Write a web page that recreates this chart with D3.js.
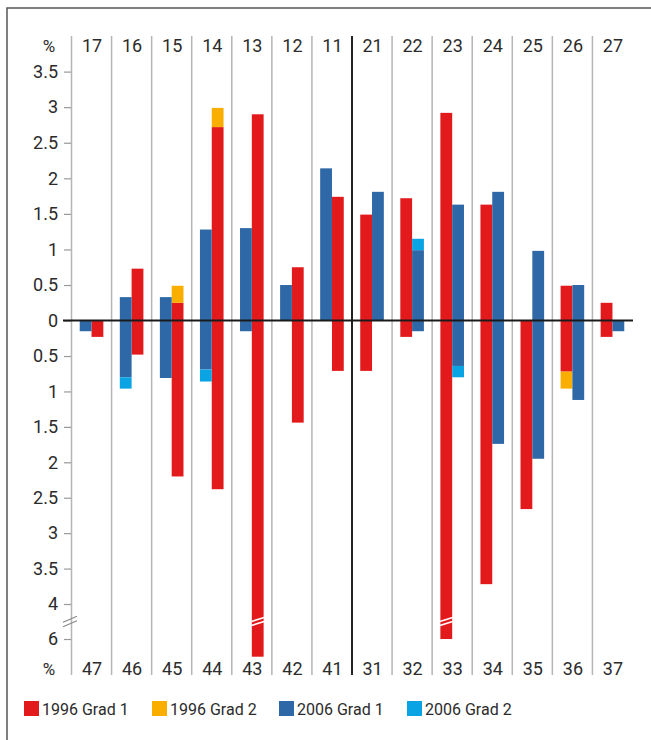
<!DOCTYPE html>
<html>
<head>
<meta charset="utf-8">
<script src="https://cdn.jsdelivr.net/npm/d3@7"></script>
<style>
  body { margin: 0; background: #fff; }
  text { font-family: Roboto, "Liberation Sans", Arial, sans-serif; fill: #2b2b2b; }
</style>
</head>
<body>
<div id="chart"></div>
<script>
const width = 651;
const height = 740;

// tooth numbers, upper jaw on top, lower jaw on bottom
const upperTeeth = ["17", "16", "15", "14", "13", "12", "11", "21", "22", "23", "24", "25", "26", "27"];
const lowerTeeth = ["47", "46", "45", "44", "43", "42", "41", "31", "32", "33", "34", "35", "36", "37"];

// percentages, upper jaw (drawn upwards)
const upper1996g1 = [0, 0.73, 0.25, 2.72, 2.90, 0.75, 1.74, 1.49, 1.72, 2.92, 1.63, 0, 0.49, 0.25];
const upper1996g2 = [0, 0, 0.24, 0.27, 0, 0, 0, 0, 0, 0, 0, 0, 0, 0];
const upper2006g1 = [0, 0.33, 0.33, 1.28, 1.30, 0.50, 2.14, 1.81, 0.99, 1.63, 1.81, 0.98, 0.50, 0];
const upper2006g2 = [0, 0, 0, 0, 0, 0, 0, 0, 0.16, 0, 0, 0, 0, 0];

// percentages, lower jaw (drawn downwards)
const lower1996g1 = [0.23, 0.48, 2.20, 2.38, 6.25, 1.44, 0.71, 0.71, 0.23, 6.0, 3.72, 2.66, 0.72, 0.23];
const lower1996g2 = [0, 0, 0, 0, 0, 0, 0, 0, 0, 0, 0, 0, 0.24, 0];
const lower2006g1 = [0.15, 0.80, 0.81, 0.69, 0.15, 0, 0, 0, 0.15, 0.64, 1.74, 1.95, 1.12, 0.15];
const lower2006g2 = [0, 0.16, 0, 0.17, 0, 0, 0, 0, 0, 0.16, 0, 0, 0, 0];

const yTicks = [3.5, 3, 2.5, 2, 1.5, 1, 0.5, 0, -0.5, -1, -1.5, -2, -2.5, -3, -3.5, -4, -6];
const seriesNames = ["1996 Grad 1", "1996 Grad 2", "2006 Grad 1", "2006 Grad 2"];
const colors = ["#e31a1c", "#f9ae00", "#2e68a6", "#0aa3e3"];

const svg = d3.select("#chart").append("svg")
    .attr("width", width)
    .attr("height", height);

// frame
svg.append("path")
    .attr("d", "M7,740 L7,8 L651,8")
    .attr("fill", "none")
    .attr("stroke", "#555")
    .attr("stroke-width", 1.5);

const x = d3.scaleBand().domain(d3.range(upperTeeth.length)).range([71, 632]);
// broken axis: 4 -> 6 squeezed
const y = d3.scaleLinear()
    .domain([3.5, 0, -4, -6, -7])
    .range([71.6, 320.6, 604, 639, 709.8]);

const lineTop = 36, lineBottom = 675;

// column separators
svg.append("g").selectAll("line")
    .data(d3.range(upperTeeth.length))
    .enter()
    .append("line")
    .attr("x1", d => x(d) + 0.5)
    .attr("x2", d => x(d) + 0.5)
    .attr("y1", lineTop)
    .attr("y2", lineBottom)
    .attr("stroke", d => d == 7 ? "#222" : "#b5b5b5")
    .attr("stroke-width", d => d == 7 ? 2 : 1.5);

// y axis
const yAxis = svg.append("g")
    .attr("transform", "translate(71,0)")
    .call(d3.axisLeft(y).tickValues(yTicks).tickSize(7).tickPadding(6)
        .tickFormat(d => Math.abs(d)));
yAxis.select(".domain").remove();
yAxis.selectAll(".tick line").attr("stroke", "#999").attr("stroke-width", 1.2);
yAxis.selectAll(".tick text")
    .style("font-size", "18px")
    .style("font-family", "Roboto, 'Liberation Sans', Arial, sans-serif")
    .attr("fill", "#2b2b2b");

// percent signs
svg.append("text").attr("x", 49).attr("y", 51.5).attr("text-anchor", "middle")
    .style("font-size", "17px").text("%");
svg.append("text").attr("x", 49).attr("y", 674.5).attr("text-anchor", "middle")
    .style("font-size", "17px").text("%");

// tooth labels
svg.append("g").selectAll("text")
    .data(upperTeeth)
    .enter()
    .append("text")
    .attr("x", (d, i) => x(i) + x.bandwidth() / 2 + 1)
    .attr("y", 51.5)
    .attr("text-anchor", "middle")
    .style("font-size", "18px")
    .text(d => d);

svg.append("g").selectAll("text")
    .data(lowerTeeth)
    .enter()
    .append("text")
    .attr("x", (d, i) => x(i) + x.bandwidth() / 2 + 1)
    .attr("y", 674.5)
    .attr("text-anchor", "middle")
    .style("font-size", "18px")
    .text(d => d);

// bars
const barW = 11.8;
function barX(i, is1996) {
    const c = x(i) + x.bandwidth() / 2 + 0.5;
    const left = i < 7;
    // 1996 bar sits next to the midline
    if (left) return is1996 ? c : c - barW;
    return is1996 ? c - barW : c;
}

const bars = [];
upperTeeth.forEach((t, i) => {
    bars.push({i: i, is1996: true, from: 0, to: upper1996g1[i], color: colors[0]});
    bars.push({i: i, is1996: true, from: upper1996g1[i], to: upper1996g1[i] + upper1996g2[i], color: colors[1]});
    bars.push({i: i, is1996: false, from: 0, to: upper2006g1[i], color: colors[2]});
    bars.push({i: i, is1996: false, from: upper2006g1[i], to: upper2006g1[i] + upper2006g2[i], color: colors[3]});
    bars.push({i: i, is1996: true, from: 0, to: -lower1996g1[i], color: colors[0]});
    bars.push({i: i, is1996: true, from: -lower1996g1[i], to: -lower1996g1[i] - lower1996g2[i], color: colors[1]});
    bars.push({i: i, is1996: false, from: 0, to: -lower2006g1[i], color: colors[2]});
    bars.push({i: i, is1996: false, from: -lower2006g1[i], to: -lower2006g1[i] - lower2006g2[i], color: colors[3]});
});

svg.append("g").selectAll("rect")
    .data(bars.filter(b => b.from != b.to))
    .enter()
    .append("rect")
    .attr("x", d => barX(d.i, d.is1996))
    .attr("width", barW)
    .attr("y", d => Math.min(y(d.from), y(d.to)))
    .attr("height", d => Math.abs(y(d.from) - y(d.to)))
    .attr("fill", d => d.color);

// break marks on bars that pass the axis break
const yBreak = y(-5);
const broken = d3.range(lowerTeeth.length).filter(i => lower1996g1[i] > 4.5);
broken.forEach(i => {
    const bx = barX(i, true);
    [-2, 2].forEach(off => {
        svg.append("line")
            .attr("x1", bx - 0.5).attr("y1", yBreak + off + 2)
            .attr("x2", bx + barW + 0.5).attr("y2", yBreak + off - 2)
            .attr("stroke", "#fff").attr("stroke-width", 1.6);
    });
});

// break marks on axis
[-2.2, 2.2].forEach(off => {
    svg.append("line")
        .attr("x1", 63).attr("y1", yBreak + off + 3)
        .attr("x2", 77).attr("y2", yBreak + off - 3)
        .attr("stroke", "#888").attr("stroke-width", 1.2);
});

// zero line
svg.append("line")
    .attr("x1", 63).attr("x2", 633)
    .attr("y1", y(0)).attr("y2", y(0))
    .attr("stroke", "#1a1a1a")
    .attr("stroke-width", 2);

// legend
const legendX = [24, 152, 279, 407];
const legend = svg.append("g").selectAll("g")
    .data(seriesNames)
    .enter()
    .append("g")
    .attr("transform", (d, i) => "translate(" + legendX[i] + ",701)");
legend.append("rect")
    .attr("width", 15).attr("height", 15)
    .attr("fill", (d, i) => colors[i]);
legend.append("text")
    .attr("x", 18).attr("y", 13.5)
    .style("font-size", "16px")
    .text(d => d);
</script>
</body>
</html>
